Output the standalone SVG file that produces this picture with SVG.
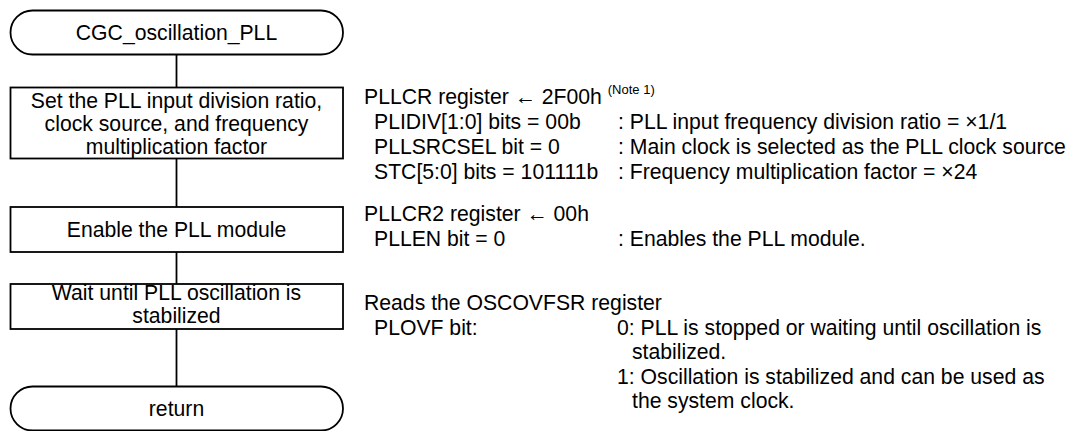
<svg xmlns="http://www.w3.org/2000/svg" width="1075" height="431" viewBox="0 0 1075 431">
<style>
.shape{fill:#fff;stroke:#000;stroke-width:1.8}
.conn{fill:none;stroke:#000;stroke-width:1.8}
text{font-family:"Liberation Sans",Arial,sans-serif;font-size:21.2px;fill:#000}
.c{text-anchor:middle}
.note{font-size:13px}
</style>
<rect width="1075" height="431" fill="#fff"/>
<g id="connectors">
<line class="conn" x1="176.5" y1="54.5" x2="176.5" y2="87.5"/>
<line class="conn" x1="176.5" y1="158.5" x2="176.5" y2="207"/>
<line class="conn" x1="176.5" y1="252" x2="176.5" y2="284"/>
<line class="conn" x1="176.5" y1="329" x2="176.5" y2="386.5"/>
</g>
<g id="start">
<rect class="shape" x="10.5" y="10.5" width="332.5" height="44" rx="22" ry="22"/>
<text class="c" x="176.5" y="40">CGC_oscillation_PLL</text>
</g>
<g id="set-pll">
<rect class="shape" x="10.5" y="87.5" width="332.5" height="71"/>
<text class="c" x="176.5" y="108">Set the PLL input division ratio,</text>
<text class="c" x="176.5" y="131">clock source, and frequency</text>
<text class="c" x="176.5" y="154">multiplication factor</text>
</g>
<g id="enable-pll">
<rect class="shape" x="10.5" y="207" width="332.5" height="45"/>
<text class="c" x="176.5" y="237">Enable the PLL module</text>
</g>
<g id="wait-pll">
<rect class="shape" x="10.5" y="284" width="332.5" height="45"/>
<text class="c" x="176.5" y="300">Wait until PLL oscillation is</text>
<text class="c" x="176.5" y="323">stabilized</text>
</g>
<g id="return">
<rect class="shape" x="10.5" y="386.5" width="332.5" height="44" rx="22" ry="22"/>
<text class="c" x="176.5" y="416">return</text>
</g>
<g id="note-pllcr">
<text x="364" y="104">PLLCR register ← 2F00h <tspan class="note" dy="-10">(Note 1)</tspan></text>
<text x="374" y="129">PLIDIV[1:0] bits = 00b</text>
<text x="618" y="129">: PLL input frequency division ratio = ×1/1</text>
<text x="374" y="154">PLLSRCSEL bit = 0</text>
<text x="618" y="154">: Main clock is selected as the PLL clock source</text>
<text x="374" y="179">STC[5:0] bits = 101111b</text>
<text x="618" y="179">: Frequency multiplication factor = ×24</text>
</g>
<g id="note-pllcr2">
<text x="364" y="221">PLLCR2 register ← 00h</text>
<text x="374" y="246">PLLEN bit = 0</text>
<text x="618" y="246">: Enables the PLL module.</text>
</g>
<g id="note-oscovfsr">
<text x="364" y="310">Reads the OSCOVFSR register</text>
<text x="374" y="335">PLOVF bit:</text>
<text x="617" y="335">0: PLL is stopped or waiting until oscillation is</text>
<text x="632" y="359">stabilized.</text>
<text x="617" y="384">1: Oscillation is stabilized and can be used as</text>
<text x="632" y="408">the system clock.</text>
</g>
</svg>
